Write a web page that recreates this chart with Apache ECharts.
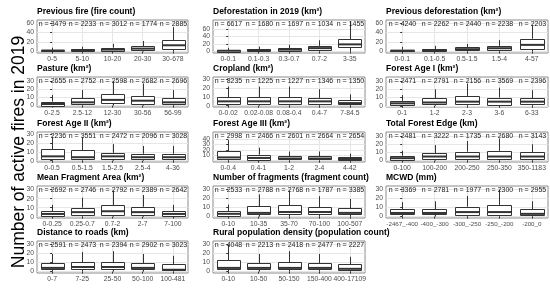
<!DOCTYPE html>
<html><head><meta charset="utf-8">
<script src="https://cdn.jsdelivr.net/npm/echarts@6/dist/echarts.min.js"></script>
<style>html,body{margin:0;padding:0;background:#fff}#c{width:550px;height:291px}</style>
</head><body><div id="c"></div>
<script>
// ---------- data ----------
const titles = ["Previous fire (fire count)", "Deforestation in 2019 (km²)", "Previous deforestation (km²)",
  "Pasture (km²)", "Cropland (km²)", "Forest Age I (km²)",
  "Forest Age II (km²)", "Forest Age III (km²)", "Total Forest Edge (km)",
  "Mean Fragment Area (km²)", "Number of fragments (fragment count)", "MCWD (mm)",
  "Distance to roads (km)", "Rural population density (population count)"];

const catsPrevFire = ["0-5","5-10","10-20","20-30","30-678"];
const catsDefor = ["0-0.1","0.1-0.3","0.3-0.7","0.7-2","3-35"];
const catsPrevDefor = ["0-0.1","0.1-0.5","0.5-1.5","1.5-4","4-57"];
const catsPasture = ["0-2.5","2.5-12","12-30","30-56","56-99"];
const catsCropland = ["0-0.02","0.02-0.08","0.08-0.4","0.4-7","7-84.5"];
const catsAgeI = ["0-1","1-2","2-3","3-6","6-33"];
const catsAgeII = ["0-0.5","0.5-1.5","1.5-2.5","2.5-4","4-36"];
const catsAgeIII = ["0-0.4","0.4-1","1-2","2-4","4-42"];
const catsEdge = ["0-100","100-200","200-250","250-350","350-1183"];
const catsMFA = ["0-0.25","0.25-0.7","0.7-2","2-7","7-100"];
const catsFrag = ["0-10","10-35","35-70","70-100","100-507"];
const catsMCWD = ["-2467_-400","-400_-300","-300_-250","-250_-200","-200_0"];
const catsRoads = ["0-7","7-25","25-50","50-100","100-481"];
const catsRural = ["0-10","10-50","50-150","150-400","400-17109"];

const nPrevFire = [3479,2233,3012,1774,2885];
const nDefor = [6617,1680,1697,1034,1455];
const nPrevDefor = [4240,2262,2440,2238,2203];
const nPasture = [2655,2752,2598,2682,2696];
const nCropland = [8235,1225,1227,1346,1350];
const nAgeI = [2471,2791,2156,3569,2396];
const nAgeII = [2236,3551,2472,2096,3028];
const nAgeIII = [2998,2466,2601,2664,2654];
const nEdge = [2481,3222,1735,2680,3143];
const nMFA = [2692,2746,2792,2389,2642];
const nFrag = [2533,2788,2768,1787,3385];
const nMCWD = [3369,2781,1977,2300,2955];
const nRoads = [2591,2473,2394,2902,3023];
const nRural = [4048,2213,2418,2477,2227];

// box statistics: [lower whisker, Q1, median, Q3, upper whisker]
const boxPrevFire = [[0,0,2,3,8],[0,1,3,5,10],[0,2,4,8,16],[0,3,6,11,22],[0,6,13,24,51]];
const boxDefor = [[0,0,2,4,10],[0,1,4,6,13],[0,2,5,9,18],[0,5,9,15,30],[0,12,19,33,80]];
const boxPrevDefor = [[0,1,2,4,10],[0,1,3,5,12],[0,2,5,9,16],[0,4,7,12,24],[0,6,14,27,55]];
const boxPasture = [[0,0,2,5,13],[0,2,4,9,19],[0,3,7,14,30],[0,2,6,12,27],[0,2,4,9,19]];
const boxCropland = [[0,2,5,10,22],[0,2,5,10,22],[0,2,5,10,22],[0,2,5,9,19],[0,1,3,6,13]];
const boxAgeI = [[0,1,3,6,13],[0,2,4,9,20],[0,2,5,12,27],[0,2,5,10,22],[0,2,5,9,19]];
const boxAgeII = [[0,2,5,13,27],[0,2,4,12,27],[0,2,5,9,19],[0,2,4,8,17],[0,2,4,8,17]];
const boxAgeIII = [[0,2,6,17,38],[0,2,5,11,24],[0,2,4,8,17],[0,2,4,8,17],[0,1,3,6,13]];
const boxEdge = [[0,1,3,6,12],[0,2,5,9,19],[0,2,5,11,24],[0,2,5,12,27],[0,2,5,10,20]];
const boxMFA = [[0,1,3,6,13],[0,2,5,10,21],[0,2,6,13,29],[0,2,5,11,24],[0,1,3,6,13]];
const boxFrag = [[0,1,3,6,13],[0,2,4,11,24],[0,2,5,12,28],[0,2,5,10,22],[0,2,4,9,19]];
const boxMCWD = [[0,2,4,8,16],[0,2,4,8,17],[0,2,5,11,23],[0,2,5,13,30],[0,1,3,8,17]];
const boxRoads = [[0,2,4,9,19],[0,2,5,10,21],[0,2,5,10,22],[0,2,4,9,19],[0,1,2,8,17]];
const boxRural = [[0,2,4,12,29],[0,2,4,9,19],[0,2,4,10,22],[0,2,4,9,19],[0,1,3,8,16]];

const ticks60 = [0,20,40,60];
const ticks30 = [0,10,20,30];
const ticks50 = [0,10,20,30,40,50];

// ---------- assemble panels ----------
const panels = [
  {cats:catsPrevFire, n:nPrevFire, box:boxPrevFire, ticks:ticks60, ymin:-3.2, ymax:66},
  {cats:catsDefor, n:nDefor, box:boxDefor, ticks:ticks60, ymin:-4, ymax:84},
  {cats:catsPrevDefor, n:nPrevDefor, box:boxPrevDefor, ticks:ticks60, ymin:-3, ymax:66},
  {cats:catsPasture, n:nPasture, box:boxPasture, ticks:ticks30, ymin:-1.7, ymax:35},
  {cats:catsCropland, n:nCropland, box:boxCropland, ticks:ticks30, ymin:-1.5, ymax:33},
  {cats:catsAgeI, n:nAgeI, box:boxAgeI, ticks:ticks30, ymin:-1.5, ymax:35},
  {cats:catsAgeII, n:nAgeII, box:boxAgeII, ticks:ticks30, ymin:-1.5, ymax:33},
  {cats:catsAgeIII, n:nAgeIII, box:boxAgeIII, ticks:ticks50, ymin:-2.5, ymax:53},
  {cats:catsEdge, n:nEdge, box:boxEdge, ticks:ticks30, ymin:-1.7, ymax:35},
  {cats:catsMFA, n:nMFA, box:boxMFA, ticks:ticks30, ymin:-1.5, ymax:34},
  {cats:catsFrag, n:nFrag, box:boxFrag, ticks:ticks30, ymin:-1.5, ymax:33},
  {cats:catsMCWD, n:nMCWD, box:boxMCWD, ticks:ticks30, ymin:-1.6, ymax:34, xFont:6.2},
  {cats:catsRoads, n:nRoads, box:boxRoads, ticks:ticks30, ymin:-1.5, ymax:33},
  {cats:catsRural, n:nRural, box:boxRural, ticks:ticks30, ymin:-1.5, ymax:33}
];

const colLeft = [37, 213, 386];
const colRight = [188, 365, 548];
const rowTop = [20, 77, 132, 186, 241];
const rowBottom = [53, 107, 162, 218, 273];

const FONT = 'Liberation Sans, Arial, sans-serif';
const grids = [], xAxes = [], yAxes = [], series = [], graphics = [];
const px = v => Math.round(v) + 0.5;

panels.forEach((p, i) => {
  const r = Math.floor(i / 3), c = i % 3;
  grids.push({left: colLeft[c], width: colRight[c] - colLeft[c], top: rowTop[r], height: rowBottom[r] - rowTop[r],
    show: true, borderColor: '#8c8c8c', borderWidth: 1, backgroundColor: '#fff', containLabel: false});
  const idx = p.cats.map((_, k) => k);
  xAxes.push({type: 'value', gridIndex: i, min: -0.5, max: p.cats.length - 0.5,
    axisLine: {show: false},
    axisTick: {show: true, length: 2, customValues: idx, lineStyle: {color: '#333', width: 1}},
    axisLabel: {customValues: idx, formatter: v => p.cats[Math.round(v)], fontSize: p.xFont || 6.8, color: '#4d4d4d', margin: 3, fontFamily: FONT, hideOverlap: false, showMinLabel: true, showMaxLabel: true},
    splitLine: {show: true, lineStyle: {color: '#e6e6e6', width: 1}}});
  yAxes.push({type: 'value', gridIndex: i, min: p.ymin, max: p.ymax,
    axisLine: {show: false},
    axisTick: {show: true, length: 2, customValues: p.ticks, lineStyle: {color: '#333', width: 1}},
    axisLabel: {customValues: p.ticks, fontSize: 6.8, color: '#4d4d4d', margin: 3, fontFamily: FONT, hideOverlap: false},
    splitLine: {show: true, lineStyle: {color: '#e6e6e6', width: 1}}});
  series.push({
    type: 'custom', xAxisIndex: i, yAxisIndex: i, clip: false,
    data: p.box.map((b, k) => [k, b[0], b[1], b[2], b[3], b[4], p.n[k]]),
    renderItem: function (params, api) {
      const x = api.value(0);
      const lo = api.value(1), q1 = api.value(2), med = api.value(3), q3 = api.value(4), hi = api.value(5);
      const hw = 0.375;
      const tl = api.coord([x - hw, q3]);
      const br = api.coord([x + hw, q1]);
      const pHi = api.coord([x, hi]), pQ3 = api.coord([x, q3]), pQ1 = api.coord([x, q1]), pLo = api.coord([x, lo]);
      const yMed = api.coord([x, med])[1];
      const xc = px(pHi[0]);
      const ls = {stroke: '#333', lineWidth: 1};
      const cs = params.coordSys;
      const rx = px(tl[0]), ry = px(tl[1]), rw = Math.round(br[0] - tl[0]), rh = Math.max(1, Math.round(br[1] - tl[1]));
      return {type: 'group', children: [
        {type: 'line', shape: {x1: xc, y1: pHi[1], x2: xc, y2: pQ3[1]}, style: ls},
        {type: 'line', shape: {x1: xc, y1: pQ1[1], x2: xc, y2: pLo[1]}, style: ls},
        {type: 'rect', shape: {x: rx, y: ry, width: rw, height: rh}, style: {fill: '#fff', stroke: '#333', lineWidth: 1}},
        {type: 'line', shape: {x1: rx, y1: yMed, x2: rx + rw, y2: yMed}, style: {stroke: '#333', lineWidth: 2}},
        {type: 'text', x: xc, y: cs.y + 4.5, style: {text: 'n = ' + api.value(6), align: 'center', verticalAlign: 'middle', fontSize: 7, fontFamily: FONT, fill: '#1a1a1a'}}
      ]};
    }
  });
  graphics.push({type: 'text', left: colLeft[c], top: rowTop[r] - 13,
    style: {text: titles[i], fontSize: 8.5, fontWeight: 'bold', fontFamily: FONT, fill: '#000'}});
});

graphics.push({type: 'text', x: 19, y: 152, rotation: Math.PI / 2,
  style: {text: 'Number of active fires in 2019', fontSize: 17.5, fontFamily: FONT, fill: '#000', align: 'center', verticalAlign: 'middle'}});

const chart = echarts.init(document.getElementById('c'), null, {renderer: 'canvas'});
chart.setOption({animation: false, grid: grids, xAxis: xAxes, yAxis: yAxes, series: series, graphic: graphics});
</script></body></html>
